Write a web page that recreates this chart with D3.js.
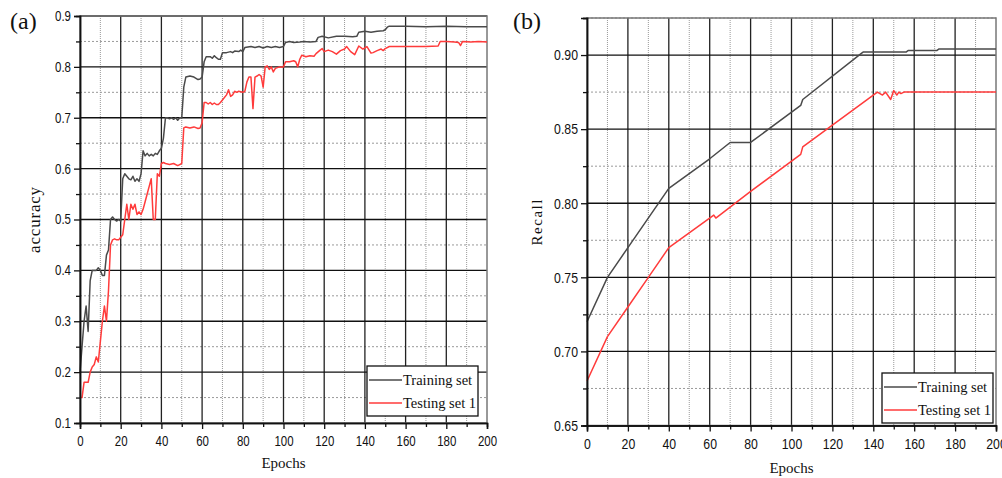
<!DOCTYPE html>
<head>
    <meta charset="utf-8">
    <title>Accuracy and recall over epochs</title>
    <style>
        body { margin: 0; background: #fff; }
        .tick text { font-family: "Liberation Sans Narrow", "Arial Narrow", "Liberation Sans", Arial, sans-serif; fill: #111; }
        .serif { font-family: "Liberation Serif", "Times New Roman", serif; fill: #111; }
    </style>
</head>

<body>

    <script src="https://d3js.org/d3.v7.min.js"></script>

    <script>

        // ---- data ----
        var seriesNames = ['Training set', 'Testing set 1'];

        // (a) accuracy
        var accTrainEpochs = [0, 1, 2, 3, 4, 5, 6, 8, 9, 10, 11, 12, 13, 14, 15, 16, 17, 18, 19, 20,
            21, 22, 23, 24, 25, 26, 27, 28, 29, 30, 31, 32, 33, 34, 35, 36, 37, 38, 39, 40,
            41, 42, 43, 44, 45, 46, 47, 48, 49, 50, 51, 52, 54, 56, 58, 59, 60, 61, 62, 64,
            65, 66, 67, 68, 69, 70, 72, 74, 75, 76, 78, 79, 80, 81, 84, 86, 88, 90, 92, 94,
            96, 98, 100, 101, 103, 105, 108, 110, 113, 116, 117, 119, 122, 126, 130, 134, 136, 137, 140, 143,
            146, 149, 150, 151, 152, 160, 170, 180, 190, 200];
        var accTrain = [0.20, 0.25, 0.30, 0.33, 0.28, 0.38, 0.40, 0.40, 0.405, 0.40, 0.39, 0.39, 0.43, 0.44, 0.50, 0.505, 0.50, 0.497, 0.50, 0.497,
            0.58, 0.59, 0.585, 0.58, 0.578, 0.585, 0.575, 0.58, 0.575, 0.59, 0.635, 0.625, 0.63, 0.625, 0.628, 0.625, 0.63, 0.628, 0.635, 0.64,
            0.66, 0.70, 0.70, 0.698, 0.70, 0.697, 0.70, 0.695, 0.70, 0.70, 0.76, 0.78, 0.782, 0.78, 0.775, 0.776, 0.78, 0.81, 0.82, 0.82,
            0.817, 0.822, 0.818, 0.815, 0.815, 0.828, 0.828, 0.83, 0.828, 0.831, 0.83, 0.833, 0.83, 0.838, 0.84, 0.838, 0.84, 0.837, 0.84, 0.838,
            0.84, 0.838, 0.84, 0.848, 0.85, 0.848, 0.849, 0.85, 0.849, 0.85, 0.858, 0.86, 0.857, 0.86, 0.86, 0.859, 0.86, 0.868, 0.87, 0.868,
            0.87, 0.871, 0.873, 0.878, 0.88, 0.88, 0.879, 0.88, 0.879, 0.879];

        var accTestEpochs = [0, 1, 2, 3, 4, 5, 6, 7, 8, 9, 10, 11, 12, 13, 14, 15, 16, 17, 18, 19,
            20, 21, 22, 23, 24, 25, 26, 27, 28, 29, 30, 31, 32, 33, 34, 35, 36, 37, 38, 39,
            40, 41, 42, 44, 46, 48, 49, 50, 51, 52, 54, 56, 58, 59, 60, 61, 62, 63, 64, 65,
            66, 67, 68, 69, 70, 72, 73, 74, 75, 76, 77, 78, 80, 81, 82, 83, 84, 85, 86, 87,
            88, 89, 90, 91, 92, 93, 94, 95, 96, 98, 100, 101, 103, 105, 106, 107, 108, 109, 111, 113,
            115, 116, 118, 119, 120, 122, 124, 126, 128, 130, 131, 133, 135, 137, 139, 141, 143, 144, 146, 148,
            149, 150, 152, 155, 159, 165, 170, 176, 177, 180, 184, 186, 187, 188, 192, 196, 200];
        var accTest = [0.15, 0.15, 0.18, 0.18, 0.18, 0.20, 0.21, 0.215, 0.23, 0.22, 0.26, 0.30, 0.33, 0.30, 0.36, 0.45, 0.46, 0.462, 0.46, 0.46,
            0.465, 0.47, 0.50, 0.53, 0.50, 0.53, 0.52, 0.53, 0.51, 0.515, 0.51, 0.52, 0.535, 0.55, 0.565, 0.58, 0.50, 0.50, 0.59, 0.585,
            0.61, 0.612, 0.61, 0.608, 0.61, 0.606, 0.608, 0.61, 0.68, 0.682, 0.68, 0.682, 0.679, 0.68, 0.69, 0.73, 0.73, 0.727, 0.73, 0.726,
            0.729, 0.726, 0.726, 0.73, 0.735, 0.745, 0.755, 0.742, 0.745, 0.752, 0.75, 0.752, 0.75, 0.752, 0.77, 0.78, 0.78, 0.718, 0.78, 0.782,
            0.785, 0.782, 0.76, 0.80, 0.802, 0.795, 0.80, 0.79, 0.797, 0.80, 0.80, 0.81, 0.81, 0.812, 0.81, 0.80, 0.815, 0.823, 0.82, 0.822,
            0.821, 0.826, 0.833, 0.836, 0.83, 0.833, 0.83, 0.825, 0.832, 0.835, 0.84, 0.83, 0.824, 0.841, 0.835, 0.84, 0.827, 0.828, 0.832, 0.835,
            0.832, 0.836, 0.84, 0.84, 0.84, 0.84, 0.84, 0.841, 0.85, 0.85, 0.849, 0.848, 0.842, 0.85, 0.849, 0.85, 0.849];

        // (b) recall
        var recTrainEpochs = [0, 10, 20, 40, 60, 70, 80, 104.5, 105.5, 134, 135, 156, 157, 171, 172, 200];
        var recTrain = [0.72, 0.75, 0.77, 0.81, 0.83, 0.841, 0.841, 0.866, 0.870, 0.901, 0.902, 0.902, 0.903, 0.903, 0.904, 0.904];

        var recTestEpochs = [0, 10, 20, 30, 40, 62, 63, 80, 104.5, 105.5, 142, 144.5, 146, 148.5, 150, 151.5, 152.5, 153.5, 155, 200];
        var recTest = [0.68, 0.71, 0.73, 0.75, 0.77, 0.792, 0.79, 0.808, 0.833, 0.838, 0.875, 0.873, 0.875, 0.870, 0.876, 0.873, 0.875, 0.874, 0.875, 0.875];

        var accTicks = [0.1, 0.2, 0.3, 0.4, 0.5, 0.6, 0.7, 0.8, 0.9];
        var recTicks = [0.65, 0.70, 0.75, 0.80, 0.85, 0.90];
        var epochTicks = [0, 20, 40, 60, 80, 100, 120, 140, 160, 180, 200];

        var colors = ['#4a4a4a', '#ff3b3b'];

        function zip(xs, ys) {
            return xs.map(function (e, i) { return { epoch: e, value: ys[i] }; });
        }

        var svg = d3.select('body').append('svg')
            .attr('width', 1002)
            .attr('height', 478);

        function drawPanel(p) {
            var x = d3.scaleLinear().domain([0, 200]).range([p.left, p.right]);
            var y = d3.scaleLinear().domain(p.yDomain).range([p.bottom, p.top]);
            var g = svg.append('g');

            var minorX = d3.range(10, 200, 20);
            var minorY = p.yTicks.slice(0, -1).map(function (t, i) { return (t + p.yTicks[i + 1]) / 2; });
            if (p.yDomain[1] > p.yTicks[p.yTicks.length - 1] + 1e-9) {
                minorY.push(p.yTicks[p.yTicks.length - 1] + (p.yTicks[1] - p.yTicks[0]) / 2);
            }

            // minor grid
            g.selectAll('.gx-minor').data(minorX).enter().append('line')
                .attr('x1', function (d) { return x(d); }).attr('x2', function (d) { return x(d); })
                .attr('y1', p.top).attr('y2', p.bottom)
                .attr('stroke', '#999').attr('stroke-width', 1).attr('stroke-dasharray', '1,1');
            g.selectAll('.gy-minor').data(minorY).enter().append('line')
                .attr('x1', p.left).attr('x2', p.right)
                .attr('y1', function (d) { return y(d); }).attr('y2', function (d) { return y(d); })
                .attr('stroke', '#999').attr('stroke-width', 1).attr('stroke-dasharray', '2,2');

            // major grid
            g.selectAll('.gx').data(epochTicks.slice(1, -1)).enter().append('line')
                .attr('x1', function (d) { return x(d); }).attr('x2', function (d) { return x(d); })
                .attr('y1', p.top).attr('y2', p.bottom)
                .attr('stroke', '#222').attr('stroke-width', 1.3);
            g.selectAll('.gy').data(p.yTicks.slice(1)).enter().append('line')
                .attr('x1', p.left).attr('x2', p.right)
                .attr('y1', function (d) { return y(d); }).attr('y2', function (d) { return y(d); })
                .attr('stroke', '#111').attr('stroke-width', 1.3);

            // frame
            g.append('rect')
                .attr('x', p.left).attr('y', p.top)
                .attr('width', p.right - p.left).attr('height', p.bottom - p.top)
                .attr('fill', 'none').attr('stroke', '#777').attr('stroke-width', 1.5);

            // curves
            var line = d3.line()
                .x(function (d) { return x(d.epoch); })
                .y(function (d) { return y(d.value); });
            p.series.forEach(function (s, i) {
                g.append('path')
                    .datum(s)
                    .attr('fill', 'none')
                    .attr('stroke', colors[i])
                    .attr('stroke-width', 1.5)
                    .attr('stroke-linejoin', 'round')
                    .attr('d', line);
            });

            // axes
            var xAxis = g.append('g')
                .attr('transform', 'translate(0,' + p.bottom + ')')
                .call(d3.axisBottom(x).tickValues(epochTicks).tickSize(6).tickPadding(7));
            g.append('g')
                .attr('transform', 'translate(0,' + p.bottom + ')')
                .call(d3.axisBottom(x).tickValues(minorX).tickSize(4).tickFormat(''));
            var yAxis = g.append('g')
                .attr('transform', 'translate(' + p.left + ',0)')
                .call(d3.axisLeft(y).tickValues(p.yTicks).tickSize(6).tickPadding(5).tickFormat(d3.format(p.fmt)));
            g.append('g')
                .attr('transform', 'translate(' + p.left + ',0)')
                .call(d3.axisLeft(y).tickValues(minorY).tickSize(4).tickFormat(''));

            g.selectAll('.domain').attr('stroke', '#111').attr('stroke-width', 1.5);
            g.selectAll('.tick line').attr('stroke', '#111').attr('stroke-width', 1.3);
            // the reference uses a condensed sans face; squeeze the regular one
            xAxis.selectAll('text').style('font-size', p.tickFont + 'px').attr('transform', 'scale(0.82,1)');
            yAxis.selectAll('text').style('font-size', p.tickFont + 'px').attr('transform', 'scale(0.82,1)');

            // labels
            g.append('text').attr('class', 'serif')
                .attr('x', p.panelX).attr('y', 29)
                .style('font-size', '24px')
                .text(p.panelLabel);

            g.append('text').attr('class', 'serif')
                .attr('x', (p.left + p.right) / 2).attr('y', p.xLabelY)
                .attr('text-anchor', 'middle')
                .style('font-size', '15px')
                .text('Epochs');

            g.append('text').attr('class', 'serif')
                .attr('transform', 'translate(' + p.yLabelX + ',' + (p.top + p.bottom) / 2 + ') rotate(-90)')
                .attr('text-anchor', 'middle')
                .style('font-size', p.yLabelFont + 'px')
                .style('letter-spacing', p.yLabelSpacing + 'px')
                .text(p.yLabel);

            // legend
            var lg = g.append('g').attr('transform', 'translate(' + p.legend[0] + ',' + p.legend[1] + ')');
            lg.append('rect')
                .attr('width', 111).attr('height', 50)
                .attr('fill', '#fff').attr('stroke', '#111').attr('stroke-width', 1.3);
            seriesNames.forEach(function (name, i) {
                var ly = 14 + i * 23;
                lg.append('line')
                    .attr('x1', 2).attr('x2', 35).attr('y1', ly).attr('y2', ly)
                    .attr('stroke', colors[i]).attr('stroke-width', 1.5);
                lg.append('text').attr('class', 'serif')
                    .attr('x', 36).attr('y', ly + 5)
                    .style('font-size', '14.5px')
                    .text(name);
            });
        }

        drawPanel({
            left: 80, right: 487, top: 16, bottom: 423,
            yDomain: [0.1, 0.9], yTicks: accTicks, fmt: '.1f', tickFont: 14,
            series: [zip(accTrainEpochs, accTrain), zip(accTestEpochs, accTest)],
            panelLabel: '(a)', panelX: 10,
            xLabelY: 468, yLabel: 'accuracy', yLabelX: 40, yLabelFont: 17, yLabelSpacing: 0.8,
            legend: [367, 366]
        });

        drawPanel({
            left: 587, right: 996, top: 18, bottom: 425.5,
            yDomain: [0.65, 0.925], yTicks: recTicks, fmt: '.2f', tickFont: 15,
            series: [zip(recTrainEpochs, recTrain), zip(recTestEpochs, recTest)],
            panelLabel: '(b)', panelX: 513,
            xLabelY: 473, yLabel: 'Recall', yLabelX: 541.5, yLabelFont: 15, yLabelSpacing: 1.5,
            legend: [882, 373]
        });

    </script>

</body>
